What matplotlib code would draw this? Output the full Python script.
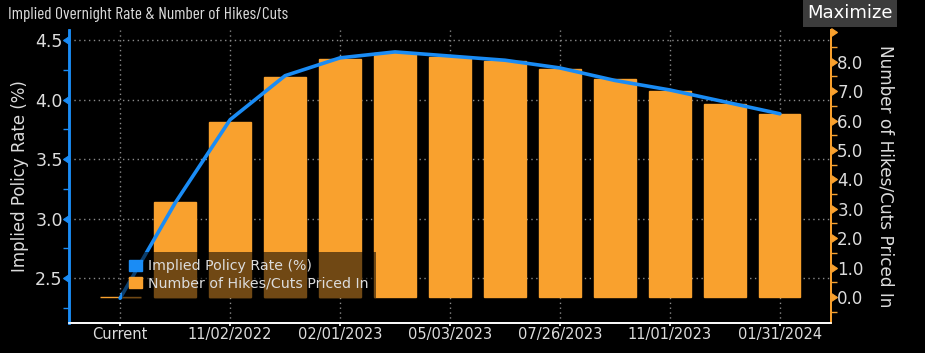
import numpy as np
import matplotlib
matplotlib.use("Agg")
import matplotlib.pyplot as plt
from matplotlib.patches import Patch

# データ
dates = ["Current", "09/21/2022", "11/02/2022", "12/14/2022", "02/01/2023", "03/22/2023",
         "05/03/2023", "06/14/2023", "07/26/2023", "09/20/2023", "11/01/2023", "12/13/2023",
         "01/31/2024"]
hikes = [0.0, 3.23, 5.95, 7.48, 8.08, 8.30, 8.16, 8.03, 7.76, 7.41, 7.00, 6.56, 6.22]
rate = [2.33, 3.13, 3.83, 4.20, 4.35, 4.40, 4.365, 4.33, 4.265, 4.16, 4.08, 3.98, 3.88]

BLUE = "#1a8cf5"
ORANGE = "#f9a12e"
TXT = "#dcdcdc"
GRID = "#8a8a8a"

plt.rcParams["font.family"] = ["DejaVu Sans"]

fig = plt.figure(figsize=(9.25, 3.53), dpi=100, facecolor="black")
# 左軸(利回り) -> グリッド用
ax = fig.add_axes([69/925, 30/353, 762/925, 293/353])
ax.set_facecolor("black")
# 右軸(利上げ回数) -> 棒グラフ
ax_r = ax.twinx()

x = np.arange(len(dates))
ax_r.bar(x, hikes, width=0.75, color=ORANGE, edgecolor=ORANGE, linewidth=1, zorder=2)
# 線は棒の上に描く (左軸のスケールで)
ax_r.plot(x, rate, color=BLUE, linewidth=2.6, transform=ax.transData, zorder=3,
          solid_capstyle="round")

ax.set_xlim(-0.93, 12.93)
ax.set_ylim(2.122, 4.584)
ax_r.set_ylim(-0.884, 9.08)

# x軸
ax.set_xticks(x[::2])
ax.set_xticklabels([dates[i] for i in range(0, len(dates), 2)], fontsize=10.5, color=TXT)
ax.tick_params(axis="x", colors="white", length=2.5, width=1.2, labelcolor=TXT, pad=0.5)

# 左軸
ax.set_yticks([2.5, 3.0, 3.5, 4.0, 4.5])
ax.set_yticks(np.arange(2.25, 4.6, 0.25), minor=True)
ax.set_yticklabels(["2.5", "3.0", "3.5", "4.0", "4.5"], fontsize=12.5, color=TXT)
ax.tick_params(axis="y", which="minor", colors=BLUE, length=4, width=1)
ax.tick_params(axis="y", which="major", colors=BLUE, labelcolor=TXT, pad=1)
for t in ax.yaxis.get_major_ticks():
    t.tick1line.set_marker(8)
    t.tick1line.set_markersize(6)
    t.tick1line.set_markerfacecolor(BLUE)
    t.tick1line.set_markeredgecolor(BLUE)

# 右軸
ax_r.set_yticks(np.arange(0, 10, 1.0))
ax_r.set_yticks(np.arange(-0.5, 9.0, 0.5), minor=True)
ax_r.set_yticklabels([f"{v:.1f}" for v in range(9)] + [""], fontsize=12, color=TXT)
ax_r.tick_params(axis="y", which="minor", colors=ORANGE, length=4, width=1)
ax_r.tick_params(axis="y", which="major", colors=ORANGE, labelcolor=TXT, pad=1)
for t in ax_r.yaxis.get_major_ticks():
    t.tick2line.set_marker(9)
    t.tick2line.set_markersize(6)
    t.tick2line.set_markerfacecolor(ORANGE)
    t.tick2line.set_markeredgecolor(ORANGE)

# グリッド
ax.grid(True, color=GRID, linestyle=(0, (1, 2.5)), linewidth=1)
ax.set_axisbelow(True)

# 枠線
for a in (ax, ax_r):
    a.spines["top"].set_visible(False)
    a.spines["left"].set_color(BLUE)
    a.spines["left"].set_linewidth(1.8)
    a.spines["right"].set_color(ORANGE)
    a.spines["right"].set_linewidth(1.4)
    a.spines["bottom"].set_color("white")
    a.spines["bottom"].set_linewidth(1.2)

ax.set_ylabel("Implied Policy Rate (%)", fontsize=12, color=TXT)
ax.yaxis.set_label_coords(-0.052, 0.503)
ax_r.set_ylabel("Number of Hikes/Cuts Priced In", fontsize=12.2, color=TXT, rotation=270)
ax_r.yaxis.set_label_coords(1.083, 0.5)

# 凡例
handles = [Patch(facecolor=BLUE, edgecolor=BLUE), Patch(facecolor=ORANGE, edgecolor=ORANGE)]
leg = ax_r.legend(handles, ["Implied Policy Rate (%)", "Number of Hikes/Cuts Priced In"],
                  loc="lower left", bbox_to_anchor=(0.069, 0.085), fontsize=10.2,
                  frameon=True, fancybox=False, framealpha=0.55, facecolor="black",
                  edgecolor="none", handlelength=0.9, handleheight=0.9, handletextpad=0.4,
                  labelspacing=0.2, borderpad=0.55, borderaxespad=0)
for txt in leg.get_texts():
    txt.set_color(TXT)

# タイトル
fig.text(8/925, 1 - 14/353, "Implied Overnight Rate & Number of Hikes/Cuts", fontsize=12.5,
         color=TXT, va="center", ha="left", family=["Barlow Condensed", "DejaVu Sans"])
fig.text(850/925, 1 - 13/353, "Maximize", fontsize=13, color="white", va="center", ha="center",
         bbox=dict(boxstyle="square,pad=0.25", facecolor="#3c3c3c", edgecolor="none"))

fig.savefig("out.png", dpi=100, facecolor="black")
